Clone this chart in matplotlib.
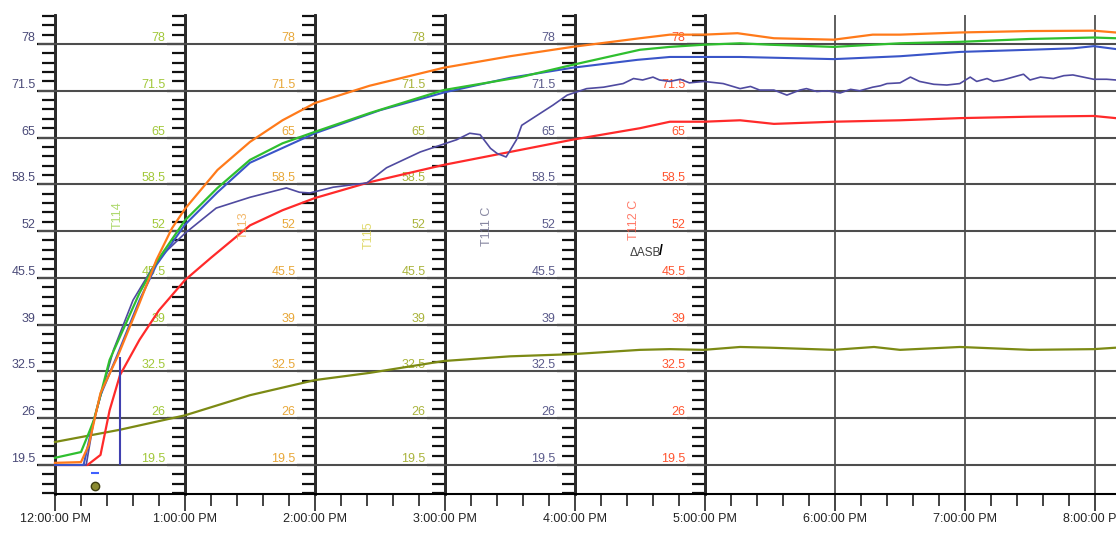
import numpy as np
import matplotlib
matplotlib.use("Agg")
import matplotlib.pyplot as plt
from matplotlib.ticker import MultipleLocator, FixedLocator

plt.rcParams['font.family'] = ['Liberation Sans', 'DejaVu Sans']

# Temperature scale shared by every channel axis
levels = [19.5, 26, 32.5, 39, 45.5, 52, 58.5, 65, 71.5, 78]
level_labels = ['19.5', '26', '32.5', '39', '45.5', '52', '58.5', '65', '71.5', '78']

# Time axis (hours after 12:00 PM)
hours = [0, 1, 2, 3, 4, 5, 6, 7, 8]
hour_labels = ['12:00:00 PM', '1:00:00 PM', '2:00:00 PM', '3:00:00 PM', '4:00:00 PM',
               '5:00:00 PM', '6:00:00 PM', '7:00:00 PM', '8:00:00 PM']

# Channel axes drawn inside the plot (one per hour, 12 PM .. 5 PM)
axis_hours = [0, 1, 2, 3, 4, 5]
axis_colors = ['#4a4a78', '#a2c83a', '#e8a83a', '#aab43c', '#5c5c8c', '#ff5530']

# Series (time in hours, value)
orange_t = [0, 0.2, 0.26, 0.35, 0.48, 0.65, 0.78, 0.9, 1.0, 1.25, 1.5, 1.75, 2.0, 2.42, 2.99,
            3.5, 3.98, 4.5, 4.73, 4.99, 5.25, 5.53, 5.99, 6.29, 6.5, 6.96, 7.5, 7.99, 8.16]
orange_v = [19.8, 19.9, 22.3, 29.5, 34.5, 42.0, 48.0, 52.4, 55.1, 60.5, 64.4, 67.4, 69.8, 72.2, 74.7,
            76.3, 77.6, 78.8, 79.3, 79.3, 79.5, 78.8, 78.6, 79.3, 79.3, 79.6, 79.8, 79.85, 79.6]

green_t = [0, 0.2, 0.27, 0.3, 0.42, 0.65, 0.78, 1.0, 1.25, 1.5, 1.75, 2.0, 2.42, 2.99, 3.58,
           3.98, 4.5, 4.73, 4.99, 5.27, 5.5, 5.99, 6.5, 6.96, 7.5, 7.99, 8.16]
green_v = [20.5, 21.3, 24.4, 25.8, 34.1, 43.4, 47.7, 53.5, 58.0, 61.9, 64.2, 65.8, 68.4, 71.6, 73.4,
           75.1, 77.2, 77.6, 77.9, 78.1, 77.9, 77.6, 78.1, 78.3, 78.7, 78.9, 78.8]

blue_t = [0, 0.22, 0.28, 0.35, 0.48, 0.65, 0.78, 1.0, 1.25, 1.5, 2.0, 2.5, 3.0, 3.5, 3.98,
          4.48, 4.73, 4.99, 5.27, 5.99, 6.5, 6.96, 7.5, 7.83, 7.99, 8.16]
blue_v = [19.5, 19.5, 24.4, 29.2, 34.8, 42.4, 47.3, 52.9, 57.4, 61.5, 65.6, 68.8, 71.3, 73.3, 74.7,
          75.8, 76.2, 76.2, 76.2, 75.9, 76.3, 76.9, 77.2, 77.4, 77.7, 77.3]

purple_t = [0, 0.24, 0.3, 0.45, 0.6, 0.75, 0.85, 1.0, 1.24, 1.5, 1.78, 1.88, 1.96, 2.14, 2.4,
            2.55, 2.68, 2.81, 2.99, 3.09, 3.19, 3.27, 3.35, 3.4, 3.47, 3.55, 3.59, 3.71, 3.83,
            3.94, 4.09, 4.22, 4.37, 4.45, 4.52, 4.6, 4.65, 4.73, 4.81, 4.88, 4.99, 5.14, 5.27,
            5.35, 5.42, 5.53, 5.63, 5.73, 5.78, 5.86, 5.94, 6.04, 6.12, 6.19, 6.29, 6.35, 6.4,
            6.5, 6.58, 6.65, 6.76, 6.86, 6.96, 7.04, 7.09, 7.17, 7.22, 7.29, 7.37, 7.45, 7.5,
            7.58, 7.68, 7.76, 7.83, 7.91, 7.99, 8.09, 8.16]
purple_v = [19.5, 19.5, 25.8, 35.5, 42.4, 46.9, 49.1, 51.7, 55.2, 56.7, 58.0, 57.4, 57.3, 58.1, 58.7,
            60.8, 61.9, 63.0, 64.1, 64.7, 65.6, 65.4, 63.5, 62.8, 62.3, 64.7, 66.7, 68.1, 69.5,
            70.9, 71.8, 72.0, 72.5, 73.2, 73.0, 73.4, 73.0, 72.8, 73.1, 72.6, 72.8, 72.5, 71.8,
            72.1, 71.6, 71.6, 70.9, 71.6, 71.8, 71.4, 71.5, 71.2, 71.7, 71.5, 72.0, 72.2, 72.5,
            72.6, 73.4, 72.8, 72.4, 72.3, 72.5, 73.4, 72.8, 73.2, 72.8, 73.0, 73.4, 73.8, 73.0,
            73.4, 73.2, 73.6, 73.7, 73.4, 73.1, 73.1, 73.0]

red_t = [0, 0.25, 0.35, 0.42, 0.5, 0.65, 0.8, 1.0, 1.2, 1.5, 1.75, 2.0, 2.42, 2.99, 3.5,
         3.98, 4.5, 4.73, 4.99, 5.27, 5.53, 5.99, 6.5, 6.96, 7.5, 7.99, 8.16]
red_v = [19.5, 19.5, 20.9, 27.1, 32.0, 36.9, 41.0, 45.2, 48.3, 52.8, 54.9, 56.6, 58.8, 61.2, 63.0,
         64.7, 66.3, 67.2, 67.2, 67.4, 66.9, 67.2, 67.4, 67.7, 67.9, 68.0, 67.7]

olive_t = [0, 0.5, 1.0, 1.5, 2.0, 2.42, 2.99, 3.5, 3.98, 4.5, 4.73, 4.99, 5.27, 5.5, 5.99,
           6.3, 6.5, 6.96, 7.5, 7.99, 8.16]
olive_v = [22.7, 24.4, 26.4, 29.2, 31.3, 32.3, 33.95, 34.6, 34.9, 35.5, 35.6, 35.5, 35.9, 35.8, 35.5,
           35.9, 35.5, 35.9, 35.5, 35.6, 35.8]

# cursor line and event marker
cursor_t, cursor_lo, cursor_hi = 0.5, 19.5, 34.5
event_t, event_v = 0.31, 16.6

# rotated channel captions (text, time, value, colour)
captions = [('T114', 0.485, 54.2, '#9ad04a'), ('T113', 1.45, 52.8, '#f0a848'),
            ('T115', 2.41, 51.5, '#d8d048'), ('T111 C', 3.32, 52.6, '#6a6a8a'),
            ('T112 C', 4.45, 53.5, '#ff5a44')]

W, H = 1116, 533
fig = plt.figure(figsize=(W / 100, H / 100), dpi=100)
ax = fig.add_axes([38 / W, 39 / H, 1 - 38 / W, 479 / H])
ax.set_xlim(-0.1308, 8.1615)
ax.set_ylim(15.47, 82.03)

# horizontal grid
ax.set_yticks(levels)
ax.tick_params(axis='y', length=0, labelleft=False)
# time axis
ax.set_xticks(hours, labels=hour_labels)
ax.xaxis.set_minor_locator(MultipleLocator(0.2))
ax.tick_params(axis='x', which='major', length=12, width=1.2, color='#222', labelsize=9,
               pad=2, labelcolor='#222')
ax.tick_params(axis='x', which='minor', length=8.5, width=1.2, color='#222')
ax.grid(axis='y', color='#4d4d4d', lw=1.5)
ax.grid(axis='x', which='major', color='#333', lw=1.1)
ax.set_axisbelow(True)
for s in ['top', 'right', 'left']:
    ax.spines[s].set_visible(False)
ax.spines['bottom'].set_linewidth(1.5)
ax.spines['bottom'].set_bounds(0, 8.1615)

# channel axes
for h, c in zip(axis_hours, axis_colors):
    sec = ax.secondary_yaxis(h, transform=ax.transData)
    sec.set_alignment('left')
    sec.spines['left'].set_linewidth(2)
    sec.spines['left'].set_color('#111')
    sec.set_yticks(levels, labels=level_labels)
    sec.yaxis.set_minor_locator(MultipleLocator(1.3))
    sec.tick_params(axis='y', which='major', length=13, width=1.6, color='#111',
                    labelcolor=c, labelsize=9, pad=1)
    sec.tick_params(axis='y', which='minor', length=9.5, width=1.6, color='#111')
    for lbl in sec.get_yticklabels():
        lbl.set_verticalalignment('bottom')

# series
ax.plot(olive_t, olive_v, color='#7c8a14', lw=1.6)
ax.plot(red_t, red_v, color='#ff2a2a', lw=1.6)
ax.plot(purple_t, purple_v, color='#4f4aa0', lw=1.2)
ax.plot(blue_t, blue_v, color='#3a55c8', lw=1.5)
ax.plot(green_t, green_v, color='#2fbf2f', lw=1.6)
ax.plot(orange_t, orange_v, color='#ff7a1a', lw=1.6)
ax.vlines(cursor_t, cursor_lo, cursor_hi, color='#4040b0', lw=1.5)
ax.plot([event_t], [event_v], marker='o', ms=6, mfc='#8a8a30', mec='#3d3d10', clip_on=False)
ax.plot([event_t], [event_v + 1.8], marker='_', ms=6, color='#4060ff', mew=1.5)

for txt, t, v, c in captions:
    ax.text(t, v, txt, rotation=90, ha='center', va='center', color=c, fontsize=9, alpha=0.8)
ax.text(4.54, 49.0, 'ΔASB', ha='center', va='center', color='#404040', fontsize=8.5)
ax.text(4.66, 49.3, '/', ha='center', va='center', color='#000', fontsize=10, fontweight='bold')

fig.savefig('out.png', dpi=100)
